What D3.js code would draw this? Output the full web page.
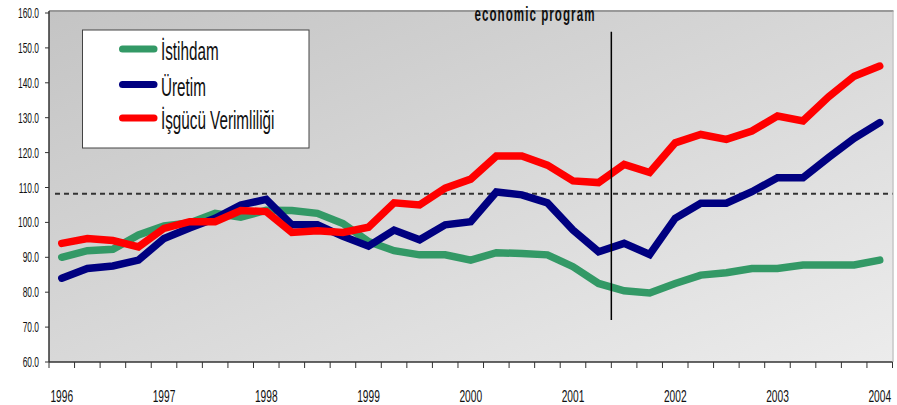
<!DOCTYPE html>
<html lang="tr">
<head>
<meta charset="UTF-8">
<title>İstihdam, Üretim ve İşgücü Verimliliği</title>
<script src="https://d3js.org/d3.v7.min.js"></script>
<style>
    body { margin: 0; background: #fff; }
    svg { display: block; font-family: "Liberation Sans", Arial, sans-serif; }
</style>
</head>
<body>
<div id="chart"></div>
<script>
    // Quarters from 1996Q1 to 2004Q1
    const quarters = [
        "1996Q1","1996Q2","1996Q3","1996Q4","1997Q1","1997Q2","1997Q3","1997Q4",
        "1998Q1","1998Q2","1998Q3","1998Q4","1999Q1","1999Q2","1999Q3","1999Q4",
        "2000Q1","2000Q2","2000Q3","2000Q4","2001Q1","2001Q2","2001Q3","2001Q4",
        "2002Q1","2002Q2","2002Q3","2002Q4","2003Q1","2003Q2","2003Q3","2003Q4",
        "2004Q1"
    ];
    const yearTicks = ["1996Q1","1997Q1","1998Q1","1999Q1","2000Q1","2001Q1","2002Q1","2003Q1","2004Q1"];
    const yTicks = [60, 70, 80, 90, 100, 110, 120, 130, 140, 150, 160];

    // Index values
    const istihdam = [90.0, 91.9, 92.3, 96.4, 99.0, 99.8, 102.6, 101.5, 103.5, 103.4, 102.6, 99.7, 94.5,
        91.9, 90.7, 90.7, 89.2, 91.3, 91.1, 90.7, 87.3, 82.5, 80.4, 79.8, 82.5, 84.9, 85.6, 86.8, 86.8,
        87.8, 87.8, 87.8, 89.2];
    const uretim = [84.0, 86.8, 87.5, 89.2, 95.4, 98.4, 101.2, 105.0, 106.6, 99.3, 99.3, 96.0, 93.2,
        97.8, 95.0, 99.3, 100.2, 108.7, 107.9, 105.6, 97.8, 91.6, 94.0, 90.8, 101.2, 105.5, 105.5, 108.8,
        112.8, 112.8, 118.6, 124.1, 128.6];
    const verimlilik = [94.0, 95.4, 94.8, 93.0, 98.3, 100.2, 100.2, 103.4, 103.1, 97.1, 97.6, 97.1, 98.6,
        105.6, 105.0, 109.8, 112.4, 119.0, 119.0, 116.4, 111.9, 111.4, 116.6, 114.3, 122.8, 125.2, 123.8,
        126.2, 130.5, 129.1, 136.0, 141.9, 144.8];

    const seriesNames = ["İstihdam", "Üretim", "İşgücü Verimliliği"];
    const seriesColors = ["#339966", "#000080", "#ff0000"];

    const referenceLevel = 108.2;
    const programQuarter = "2001Q3";
    const programRange = [72, 154.6];
    const programLabel = "economic program";

    const width = 897, height = 405;
    const plot = {left: 49, right: 892.5, top: 11, bottom: 362};

    const svg = d3.select("#chart").append("svg")
        .attr("width", width)
        .attr("height", height);

    const x = d3.scaleBand().domain(quarters).range([plot.left, plot.right]);
    const y = d3.scaleLinear().domain([60, 160]).range([plot.bottom, 13]);
    const cx = q => x(q) + x.bandwidth() / 2;

    // condensed looking text (the original uses a narrow face)
    function squeezed(parent, px, py, str, size, anchor, sx) {
        return parent.append("text")
            .attr("transform", `translate(${px},${py}) scale(${sx || 0.6},1)`)
            .attr("text-anchor", anchor || "start")
            .style("font-size", size + "px")
            .attr("fill", "#111")
            .text(str);
    }

    // plot background with gradient
    const grad = svg.append("defs").append("linearGradient")
        .attr("id", "bg").attr("x1", 0).attr("y1", 0).attr("x2", 1).attr("y2", 1);
    grad.append("stop").attr("offset", 0).attr("stop-color", "#c4c4c4");
    grad.append("stop").attr("offset", 1).attr("stop-color", "#ececec");

    svg.append("rect")
        .attr("x", plot.left).attr("y", plot.top)
        .attr("width", plot.right - plot.left).attr("height", plot.bottom - plot.top)
        .attr("fill", "url(#bg)");
    svg.append("line")
        .attr("x1", plot.left).attr("x2", plot.right + 1)
        .attr("y1", plot.top).attr("y2", plot.top)
        .attr("stroke", "#999").attr("stroke-width", 2);
    svg.append("line")
        .attr("x1", plot.right + 0.5).attr("x2", plot.right + 0.5)
        .attr("y1", plot.top).attr("y2", plot.bottom)
        .attr("stroke", "#aaa").attr("stroke-width", 1);

    // dashed reference level
    svg.append("line")
        .attr("x1", plot.left + 6).attr("x2", plot.right)
        .attr("y1", y(referenceLevel)).attr("y2", y(referenceLevel))
        .attr("stroke", "#333").attr("stroke-width", 2)
        .attr("stroke-dasharray", "5,4");

    // series lines
    const line = d3.line()
        .x((d, i) => cx(quarters[i]))
        .y(d => y(d));

    [istihdam, uretim, verimlilik].forEach((values, i) => {
        svg.append("path")
            .datum(values)
            .attr("d", line)
            .attr("fill", "none")
            .attr("stroke", seriesColors[i])
            .attr("stroke-width", 7.5)
            .attr("stroke-linecap", "round")
            .attr("stroke-linejoin", "miter");
    });

    // vertical marker for the economic program
    svg.append("line")
        .attr("x1", x(programQuarter)).attr("x2", x(programQuarter))
        .attr("y1", y(programRange[1])).attr("y2", y(programRange[0]))
        .attr("stroke", "#000").attr("stroke-width", 1.5);

    squeezed(svg, 535, 20.5, programLabel, 20, "middle", 0.58)
        .style("font-weight", "bold")
        .style("letter-spacing", "1.8px");

    // Y axis
    svg.append("line")
        .attr("x1", plot.left).attr("x2", plot.left)
        .attr("y1", plot.top).attr("y2", plot.bottom)
        .attr("stroke", "#333").attr("stroke-width", 1.5);
    yTicks.forEach(t => {
        svg.append("line")
            .attr("x1", plot.left - 4).attr("x2", plot.left)
            .attr("y1", y(t)).attr("y2", y(t))
            .attr("stroke", "#333").attr("stroke-width", 1);
        squeezed(svg, 39, y(t) + 5, d3.format(".1f")(t), 15, "end", 0.56);
    });

    // X axis
    svg.append("line")
        .attr("x1", plot.left).attr("x2", plot.right)
        .attr("y1", plot.bottom).attr("y2", plot.bottom)
        .attr("stroke", "#333").attr("stroke-width", 1.5);
    quarters.concat([null]).forEach(q => {
        const px = q ? x(q) : plot.right;
        svg.append("line")
            .attr("x1", px).attr("x2", px)
            .attr("y1", plot.bottom).attr("y2", plot.bottom + 6)
            .attr("stroke", "#333").attr("stroke-width", 1);
    });
    yearTicks.forEach(q => {
        squeezed(svg, cx(q), 402, q.slice(0, 4), 17, "middle");
    });

    // Legend
    const legend = svg.append("g");
    legend.append("rect")
        .attr("x", 82.5).attr("y", 30)
        .attr("width", 226.5).attr("height", 118)
        .attr("fill", "#fff").attr("stroke", "#444").attr("stroke-width", 1);
    const rows = [49, 84.5, 118];
    seriesNames.forEach((name, i) => {
        legend.append("line")
            .attr("x1", 122.5).attr("x2", 154)
            .attr("y1", rows[i]).attr("y2", rows[i])
            .attr("stroke", seriesColors[i]).attr("stroke-width", 7)
            .attr("stroke-linecap", "round");
        squeezed(legend, 161, rows[i] + 11, name, 25, "start", 0.61);
    });
</script>
</body>
</html>
